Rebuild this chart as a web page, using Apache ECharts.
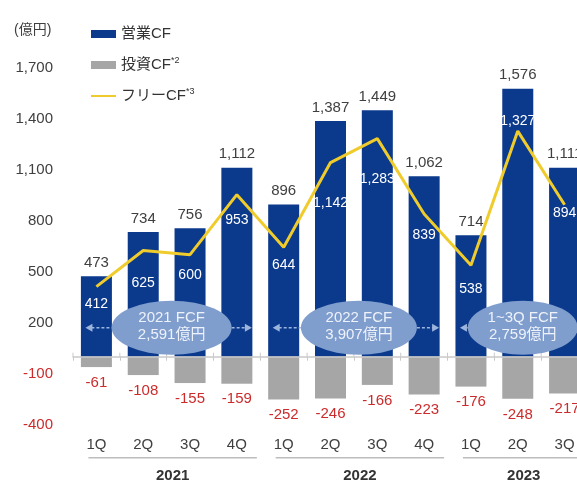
<!DOCTYPE html>
<html>
<head>
<meta charset="utf-8">
<script src="https://cdn.jsdelivr.net/npm/echarts@6/dist/echarts.min.js"></script>
<style>
  html, body { margin: 0; padding: 0; background: #ffffff; }
  #chart { width: 577px; height: 482px; }
</style>
</head>
<body>
<div id="chart"></div>
<script>
// Quarterly cash flow (億円)
const quarters = ['1Q', '2Q', '3Q', '4Q', '1Q', '2Q', '3Q', '4Q', '1Q', '2Q', '3Q'];
const operatingCF = [473, 734, 756, 1112, 896, 1387, 1449, 1062, 714, 1576, 1111];
const investingCF = [-61, -108, -155, -159, -252, -246, -166, -223, -176, -248, -217];
const freeCF = [412, 625, 600, 953, 644, 1142, 1283, 839, 538, 1327, 894];

// Value axis ticks
const yMin = -400;
const yMax = 1700;
const yStep = 300;

// Fiscal year groups and their annual FCF callouts
const years = ['2021', '2022', '2023'];
const yearFirstIdx = [0, 4, 8];
const yearLastIdx = [3, 7, 10];
const fcfTitles = ['2021 FCF', '2022 FCF', '1~3Q FCF'];
const fcfTotals = ['2,591億円', '3,907億円', '2,759億円'];

// Legend names and footnote marks
const seriesNames = ['営業CF', '投資CF', 'フリーCF'];
const legendNotes = { '投資CF': '*2', 'フリーCF': '*3' };

// ---- styling ----
const FONT = "'Liberation Sans', Arial, 'Noto Sans CJK JP', sans-serif";
const BLUE = '#0b398c';
const GREY = '#a6a6a6';
const YELLOW = '#efcc2c';
const RED = '#cc2b2b';
const TEXT = '#404040';
const fcfLabelDy = [17, 33, 20, 25, 18, 41, 41, 21, 24, -10, 8];
const calloutRx = [60, 58, 55];

const fmt = v => Number(v).toLocaleString('en-US');

const chart = echarts.init(document.getElementById('chart'), null, { renderer: 'canvas' });

const option = {
  animation: false,
  textStyle: { fontFamily: FONT },
  // the last quarter runs past the right edge of the canvas
  grid: { left: 73, width: 515, top: 67.7, height: 357, containLabel: false, outerBoundsMode: 'none' },
  legend: {
    orient: 'vertical',
    left: 85,
    top: 20.5,
    itemWidth: 25,
    itemHeight: 8,
    itemGap: 14,
    selectedMode: false,
    data: [
      { name: seriesNames[0], icon: 'rect' },
      { name: seriesNames[1], icon: 'rect' },
      { name: seriesNames[2] }
    ],
    formatter: name => legendNotes[name] ? name + '{sup|' + legendNotes[name] + '}' : name,
    textStyle: {
      fontFamily: FONT, fontSize: 15, color: '#333333', lineHeight: 17,
      rich: { sup: { fontFamily: FONT, fontSize: 9, color: '#333333', padding: [0, 0, 8, 0] } }
    }
  },
  xAxis: [
    {
      // zero line with category ticks
      type: 'category',
      data: quarters,
      position: 'bottom',
      z: 10,
      axisLine: { show: true, onZero: true, lineStyle: { color: '#c9c9c9', width: 1.5 } },
      axisTick: { show: true, length: 4, lineStyle: { color: '#c9c9c9', width: 1 } },
      axisLabel: { show: false },
      splitLine: { show: false }
    },
    {
      // quarter labels under the plot
      type: 'category',
      data: quarters,
      position: 'bottom',
      axisLine: { show: false, onZero: false },
      axisTick: { show: false },
      axisLabel: { show: true, margin: 13, fontSize: 15, color: TEXT, fontFamily: FONT },
      splitLine: { show: false }
    }
  ],
  yAxis: {
    type: 'value',
    min: yMin,
    max: yMax,
    interval: yStep,
    axisLine: { show: false },
    axisTick: { show: false },
    splitLine: { show: false },
    axisLabel: {
      margin: 20,
      formatter: v => (v < 0 ? '{neg|' : '{pos|') + fmt(v) + '}',
      rich: {
        pos: { fontFamily: FONT, fontSize: 15, color: TEXT },
        neg: { fontFamily: FONT, fontSize: 15, color: RED }
      }
    }
  },
  series: [
    {
      name: seriesNames[0],
      type: 'bar',
      data: operatingCF,
      barWidth: 31,
      barGap: '-100%',
      itemStyle: { color: BLUE },
      label: {
        show: true, position: 'top', distance: 6,
        fontFamily: FONT, fontSize: 15, color: TEXT,
        formatter: p => fmt(p.value)
      }
    },
    {
      name: seriesNames[1],
      type: 'bar',
      data: investingCF,
      barWidth: 31,
      barGap: '-100%',
      itemStyle: { color: GREY },
      label: {
        show: true, position: 'bottom', distance: 8,
        fontFamily: FONT, fontSize: 15, color: RED,
        formatter: p => fmt(p.value)
      }
    },
    {
      name: seriesNames[2],
      type: 'line',
      z: 5,
      data: freeCF.map((v, i) => ({ value: v, label: { offset: [0, fcfLabelDy[i]] } })),
      symbol: 'circle',
      symbolSize: 2,
      showSymbol: true,
      itemStyle: { color: 'rgba(0,0,0,0)' },
      lineStyle: { color: YELLOW, width: 3 },
      label: {
        show: true, position: 'inside',
        fontFamily: FONT, fontSize: 14, color: '#ffffff',
        formatter: p => fmt(p.value)
      }
    }
  ]
};

chart.setOption(option);

// ---- annotations placed from the axes ----
const toPx = (i, v) => chart.convertToPixel({ xAxisIndex: 0, yAxisIndex: 0 }, [i, v]);
const zeroY = toPx(0, 0)[1];
const bottomY = toPx(0, yMin)[1];
const band = toPx(1, 0)[0] - toPx(0, 0)[0];
const graphics = [];

// unit label
graphics.push({
  type: 'text', left: 14, top: 23, z: 20,
  style: { text: '(億円)', fontFamily: FONT, fontSize: 14, fill: TEXT }
});

// upper half of the category ticks on the zero line
for (let k = 0; k <= quarters.length; k++) {
  const x = toPx(0, 0)[0] + (k - 0.5) * band;
  graphics.push({
    type: 'line', z: 20,
    shape: { x1: x, y1: zeroY - 4, x2: x, y2: zeroY },
    style: { stroke: '#c9c9c9', lineWidth: 1 }
  });
}

years.forEach((yr, g) => {
  const xFirst = toPx(yearFirstIdx[g], 0)[0];
  const xLast = toPx(yearLastIdx[g], 0)[0];

  // year bracket line and label
  const lx1 = xFirst - 8;
  const lx2 = xLast + 20;
  const lineY = bottomY + 33;
  graphics.push({
    type: 'line', z: 20,
    shape: { x1: lx1, y1: lineY, x2: lx2, y2: lineY },
    style: { stroke: '#bdbdbd', lineWidth: 1.5 }
  });
  graphics.push({
    type: 'text', z: 20,
    x: (lx1 + lx2) / 2, y: lineY + 18,
    style: {
      text: yr, fontFamily: FONT, fontSize: 15, fontWeight: 'bold', fill: '#333333',
      align: 'center', verticalAlign: 'middle'
    }
  });

  // annual FCF callout: ellipse with dashed arrows spanning the year
  const cx = (xFirst + xLast) / 2 + 5;
  const cy = zeroY - 29;
  const rx = calloutRx[g];
  const ry = 27;
  const arrowColor = '#9db5dd';
  const leftTip = xFirst - 11;
  const rightTip = xLast + 15;
  graphics.push({
    type: 'line', z: 21,
    shape: { x1: leftTip + 6, y1: cy, x2: cx - rx, y2: cy },
    style: { stroke: arrowColor, lineWidth: 1.5, lineDash: [3, 2] }
  });
  graphics.push({
    type: 'polygon', z: 21,
    shape: { points: [[leftTip, cy], [leftTip + 7, cy - 4], [leftTip + 7, cy + 4]] },
    style: { fill: arrowColor }
  });
  graphics.push({
    type: 'line', z: 21,
    shape: { x1: cx + rx, y1: cy, x2: rightTip - 6, y2: cy },
    style: { stroke: arrowColor, lineWidth: 1.5, lineDash: [3, 2] }
  });
  graphics.push({
    type: 'polygon', z: 21,
    shape: { points: [[rightTip, cy], [rightTip - 7, cy - 4], [rightTip - 7, cy + 4]] },
    style: { fill: arrowColor }
  });
  graphics.push({
    type: 'circle', z: 22,
    x: cx, y: cy, scaleX: rx / ry, scaleY: 1,
    shape: { cx: 0, cy: 0, r: ry },
    style: { fill: '#7f9dcd' }
  });
  graphics.push({
    type: 'text', z: 23,
    x: cx, y: cy - 1.5,
    style: {
      text: fcfTitles[g] + '\n' + fcfTotals[g],
      fontFamily: FONT, fontSize: 15, lineHeight: 17, fill: '#eef2fa',
      align: 'center', verticalAlign: 'middle'
    }
  });
});

chart.setOption({ graphic: graphics });
</script>
</body>
</html>
